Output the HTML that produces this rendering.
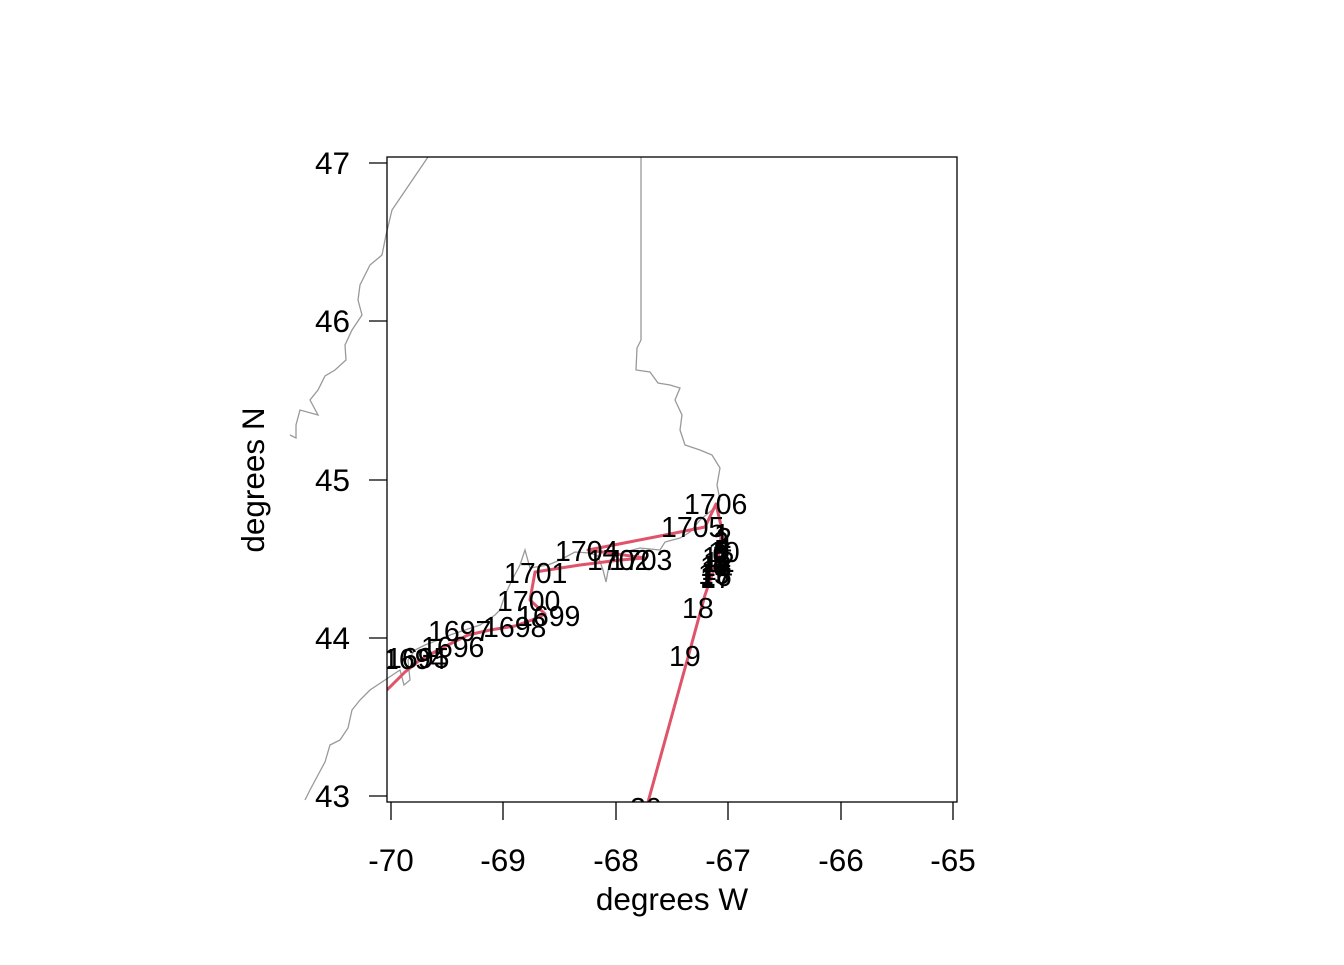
<!DOCTYPE html>
<html><head><style>body{margin:0;background:#fff}svg text{font-family:"Liberation Sans",sans-serif}</style></head><body>
<svg width="1344" height="960" viewBox="0 0 1344 960" xmlns="http://www.w3.org/2000/svg">
<defs><clipPath id="c"><rect x="387" y="157" width="570" height="645"/></clipPath></defs>
<g fill="none" stroke="#999" stroke-width="1.3">
<path d="M428,157 L392,210 L386,235 L382,255 L370,265 L360,285 L358,300 L362,315 L352,330 L345,345 L346,360 L335,370 L325,376 L318,390 L310,400 L318,415 L300,410 L296,425 L296,438 L290,435"/>
<path d="M641,157 L641,340 L637,348 L636,370 L650,372 L658,383 L670,385 L680,388 L675,400 L682,415 L680,430 L685,445 L700,450 L712,455 L720,468 L717,485 L720,500"/>
<path d="M720,500 L712,510 L700,520 L690,532 L680,538 L665,542 L660,550 L640,548 L625,552 L610,560 L606,582 L603,570 L598,556 L590,553 L575,552 L560,560 L548,565 L530,568 L525,550 L520,565 L512,580 L505,595 L500,610 L495,615 L480,625 L465,630 L450,635 L438,640 L425,645 L415,650 L408,660 L410,680 L404,685 L400,670 L385,680 L370,690 L360,700 L352,710 L348,728 L340,740 L330,745 L325,762 L318,775 L310,790 L305,800"/>
</g>
<g clip-path="url(#c)">
<g fill="none" stroke="#DF536B" stroke-width="3" stroke-linejoin="round">
<path d="M387,690 L405,672 L420,660 L442,648 L468,635 L490,630 L515,626 L532,620 L545,614 L530,600 L535,572 L580,565 L620,560 L645,558 L588,550 L660,536 L705,527 L716,504 L722,530 L718,560 L712,575 L705,595 L690,650 L648,802"/>
</g>
<g font-size="28.5" fill="#000">
<text x="383" y="669">1694</text><text x="386" y="668">1695</text>
<text x="421" y="657">1696</text><text x="428" y="641">1697</text>
<text x="483" y="637">1698</text><text x="517" y="626">1699</text>
<text x="497" y="611">1700</text><text x="504" y="583">1701</text>
<text x="587" y="570">1702</text><text x="609" y="570">1703</text>
<text x="555" y="561">1704</text><text x="661" y="537">1705</text>
<text x="684" y="514">1706</text>
<text x="714" y="544">1</text><text x="716" y="548">2</text><text x="713" y="552">3</text><text x="716" y="556">4</text><text x="714" y="560">5</text><text x="712" y="564">6</text><text x="713" y="568">7</text><text x="712" y="572">8</text><text x="713" y="576">9</text>
<text x="708" y="562">10</text><text x="702" y="567">11</text><text x="703" y="572">12</text><text x="700" y="576">13</text><text x="701" y="580">14</text><text x="698" y="584">15</text><text x="700" y="586">16</text><text x="700" y="588">17</text>
<text x="682" y="618">18</text><text x="669" y="666">19</text>
<text x="630" y="818">20</text>
</g>
</g>
<rect x="387" y="157" width="570" height="645" fill="none" stroke="#000" stroke-width="1.3"/>
<g stroke="#000" stroke-width="1.3">
<path d="M369,163H387M369,321H387M369,480H387M369,638H387M369,796H387"/>
<path d="M391,802V820M503,802V820M616,802V820M728,802V820M841,802V820M953,802V820"/>
</g>
<g font-size="31.5" fill="#000">
<text x="350" y="174" text-anchor="end">47</text><text x="350" y="332" text-anchor="end">46</text>
<text x="350" y="491" text-anchor="end">45</text><text x="350" y="649" text-anchor="end">44</text>
<text x="350" y="807" text-anchor="end">43</text>
<g text-anchor="middle"><text x="391" y="871">-70</text><text x="503" y="871">-69</text><text x="616" y="871">-68</text><text x="728" y="871">-67</text><text x="841" y="871">-66</text><text x="953" y="871">-65</text>
<text x="672" y="910">degrees W</text>
<text transform="translate(264,480) rotate(-90)">degrees N</text></g>
</g>
</svg>
</body></html>
